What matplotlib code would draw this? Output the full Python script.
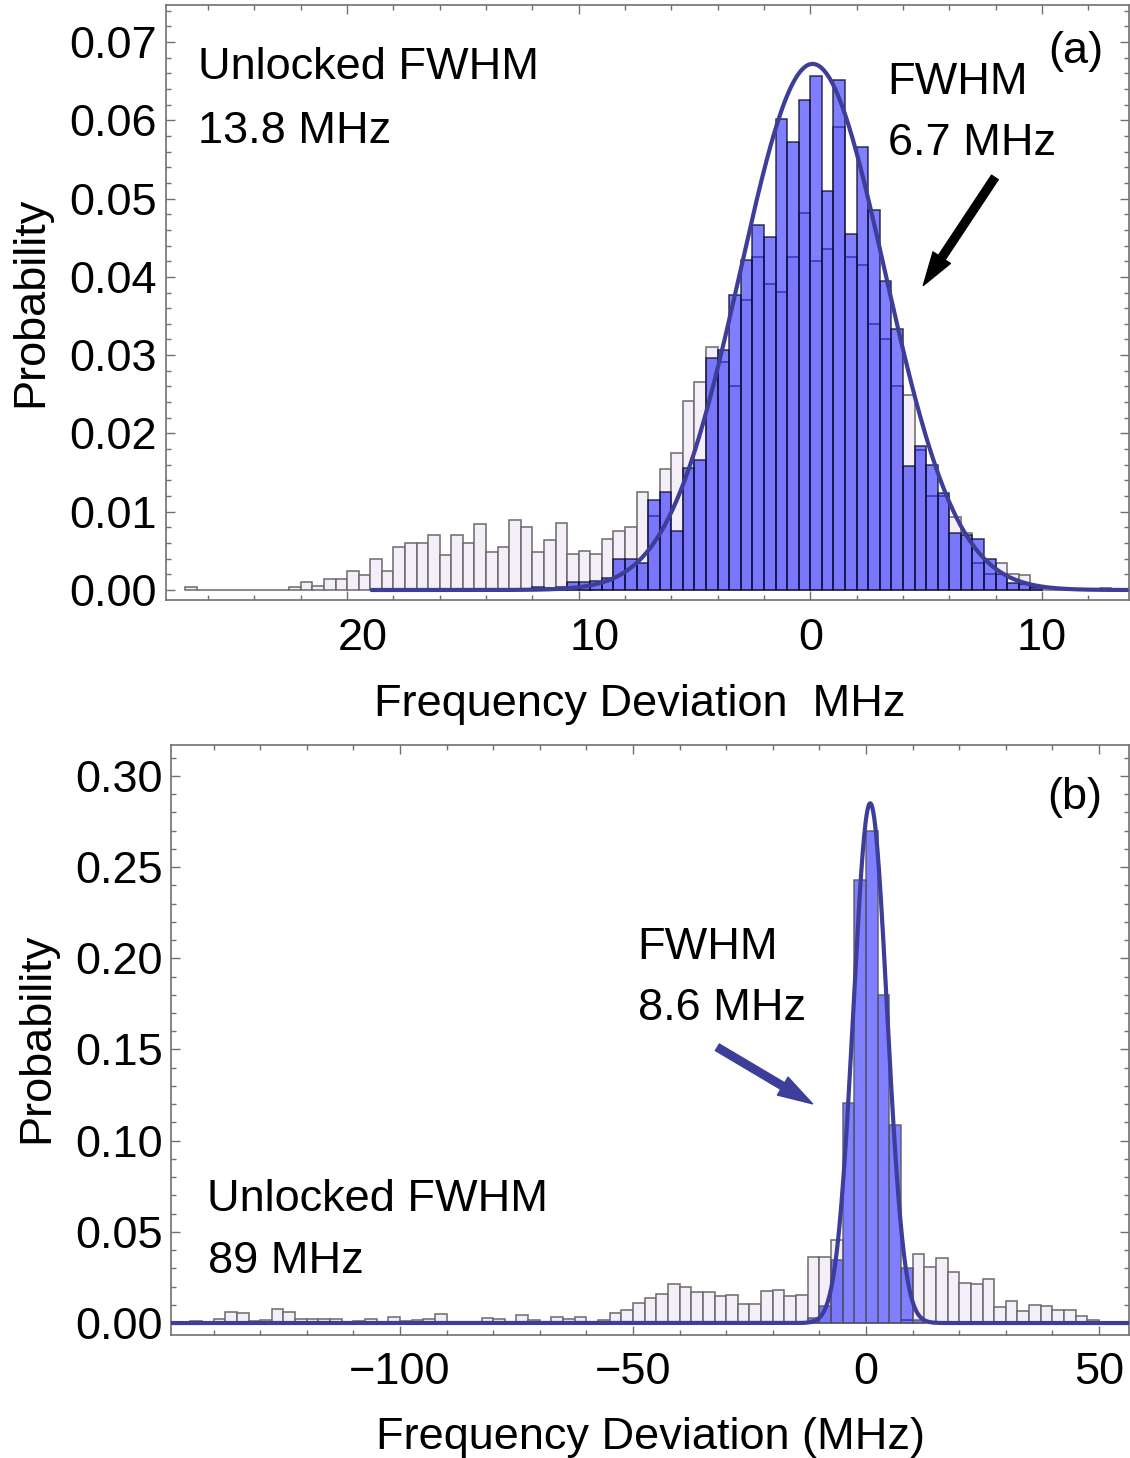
import numpy as np
import matplotlib
matplotlib.use("Agg")
import matplotlib.pyplot as plt
from matplotlib.ticker import MultipleLocator
from matplotlib.patches import FancyArrowPatch
from matplotlib.transforms import ScaledTranslation

plt.rcParams['font.family'] = ['Liberation Sans', 'DejaVu Sans']

# ------------------------------------------------------------------ data (a)
a_bin_width = 0.5
a_unlocked_start = -27.0
a_unlocked = [
    0.0004, 0, 0, 0, 0, 0, 0, 0, 0,
    0.00043, 0.00098, 0.00047, 0.00145, 0.00145, 0.00243, 0.00196, 0.0039,
    0.00247, 0.00545, 0.0060, 0.0060, 0.0070, 0.00447, 0.0070, 0.0060,
    0.0084, 0.0049, 0.00545, 0.0089, 0.0080, 0.0049, 0.0064, 0.0085,
    0.0046, 0.0050, 0.0046, 0.0065, 0.0075, 0.0080, 0.0125, 0.0095,
    0.0155, 0.0175, 0.0241, 0.0266, 0.0311, 0.0291, 0.0261, 0.0371,
    0.0426, 0.0391, 0.0381, 0.0426, 0.0482, 0.0420, 0.0436, 0.0591,
    0.0425, 0.0415, 0.0340, 0.0320, 0.0260, 0.0249, 0.0179, 0.0120,
    0.0120, 0.0093, 0.0073, 0.0035, 0.0020, 0.0035, 0.0020, 0.0019,
    0.0003, 0, 0, 0, 0, 0, 0.0003,
]
a_locked_start = -12.0
a_locked = [
    0.0004, 0.0003, 0.0004, 0.0010, 0.0010, 0.0012, 0.0015, 0.0040,
    0.0040, 0.0035, 0.0115, 0.0125, 0.0075, 0.0156, 0.0166, 0.0296,
    0.0306, 0.0377, 0.0421, 0.0466, 0.0451, 0.0602, 0.0572, 0.0626,
    0.0656, 0.0510, 0.0651, 0.0455, 0.0566, 0.0485, 0.0395, 0.0334,
    0.0159, 0.0184, 0.0160, 0.0124, 0.0073, 0.0070, 0.0065, 0.0040,
    0.0020, 0.0009, 0.0008, 0.0004,
]
a_fit_amp, a_fit_center, a_fit_sigma, a_fit_start = 0.0672, 0.1, 3.12, -19.0

a_xticks = [-20, -10, 0, 10]
a_xticklabels = ['20', '10', '0', '10']
a_yticks = [0.00, 0.01, 0.02, 0.03, 0.04, 0.05, 0.06, 0.07]
a_yticklabels = ['0.00', '0.01', '0.02', '0.03', '0.04', '0.05', '0.06', '0.07']

# ------------------------------------------------------------------ data (b)
b_bin_width = 2.5
b_unlocked_start = -147.5
b_unlocked = [
    0.0003, 0.0009, 0.0, 0.0024, 0.0062, 0.0055, 0.0009, 0.0018,
    0.0075, 0.0060, 0.0022, 0.0022, 0.0022, 0.0022, 0.0003, 0.0009,
    0.0022, 0.0003, 0.0035, 0.0009, 0.0016, 0.0024, 0.0047, 0.0005,
    0.0005, 0.0005, 0.0029, 0.0022, 0.0005, 0.0042, 0.0016, 0.0005,
    0.0035, 0.0022, 0.0035, 0.0005, 0.0016, 0.0056, 0.0069, 0.0110,
    0.0136, 0.0157, 0.0215, 0.0200, 0.0172, 0.0172, 0.0146, 0.0152,
    0.0104, 0.0104, 0.0174, 0.0181, 0.0146, 0.0152, 0.0362, 0.0362,
    0.0457, 0.0, 0.0, 0.0, 0.0, 0.0, 0.0017, 0.0381,
    0.0309, 0.0355, 0.0280, 0.0221, 0.0214, 0.0240, 0.0086, 0.0120,
    0.0066, 0.0099, 0.0093, 0.0073, 0.0073, 0.0039, 0.0014, 0.0004,
]
b_locked_start = -12.5
b_locked = [0.0025, 0.0096, 0.0346, 0.1204, 0.2430, 0.2700, 0.1800, 0.1085,
            0.0303, 0.0016]
b_fit_amp, b_fit_center, b_fit_sigma = 0.285, 0.9, 3.6

b_xticks = [-100, -50, 0, 50]
b_xticklabels = ['\u2212100', '\u221250', '0', '50']
b_yticks = [0.00, 0.05, 0.10, 0.15, 0.20, 0.25, 0.30]
b_yticklabels = ['0.00', '0.05', '0.10', '0.15', '0.20', '0.25', '0.30']

# ------------------------------------------------------------------ style
W, H, DPI = 1130, 1458, 100
FS = 32.5
LAV = '#f4eef8'
LAV_EDGE = '#6a6a6a'
BLUE = (0.0, 0.0, 1.0, 0.5)
BLUE_EDGE_A = (0.08, 0.08, 0.2, 0.85)
BLUE_EDGE_B = (0.35, 0.35, 0.4, 0.9)
CURVE = '#3d3d9a'
FRAME = '#707070'

fig = plt.figure(figsize=(W / DPI, H / DPI), dpi=DPI)


def add_axes_px(left, top, right, bottom):
    return fig.add_axes([left / W, 1 - bottom / H, (right - left) / W, (bottom - top) / H])


def fig_text(x, y, s, **kw):
    fig.text(x / W, 1 - y / H, s, fontsize=FS, **kw)


def style_axes(ax, xminor, yminor, xpad, ypad):
    for sp in ax.spines.values():
        sp.set_color(FRAME)
        sp.set_linewidth(1.2)
    ax.xaxis.set_minor_locator(MultipleLocator(xminor))
    ax.yaxis.set_minor_locator(MultipleLocator(yminor))
    ax.tick_params(which='both', direction='in', top=True, right=True,
                   color=FRAME, width=1.0, labelsize=FS)
    ax.tick_params(which='major', length=6.5)
    ax.tick_params(which='minor', length=3.5)
    ax.tick_params(axis='x', pad=xpad)
    ax.tick_params(axis='y', pad=ypad)


def draw_hist(ax, start, width, values, **kw):
    values = np.asarray(values, dtype=float)
    left = start + width * np.arange(len(values))
    ax.bar(left, values, width=width, align='edge', **kw)


# ------------------------------------------------------------------ panel (a)
axa = add_axes_px(166, 5, 1128.5, 600)
draw_hist(axa, a_unlocked_start, a_bin_width, a_unlocked,
          color=LAV, edgecolor=LAV_EDGE, linewidth=1.1, zorder=2)
draw_hist(axa, a_locked_start, a_bin_width, a_locked,
          color=BLUE, edgecolor=BLUE_EDGE_A, linewidth=1.1, zorder=3)
axa.set_xlim(-27.82, 13.74)
axa.set_ylim(-0.001277, 0.074726)
xa = np.linspace(a_fit_start, 13.74, 600)
axa.plot(xa, a_fit_amp * np.exp(-(xa - a_fit_center) ** 2 / (2 * a_fit_sigma ** 2)),
         color=CURVE, lw=3.0, zorder=4, solid_capstyle='butt')
axa.set_xticks(a_xticks)
axa.set_xticklabels(a_xticklabels)
axa.set_yticks(a_yticks)
axa.set_yticklabels(a_yticklabels)
style_axes(axa, 2, 0.002, 13, 6.5)
# the negative labels in the reference are shifted right (their minus sign is not drawn)
for lab in axa.get_xticklabels()[:2]:
    lab.set_transform(lab.get_transform() + ScaledTranslation(16 / DPI, 0, fig.dpi_scale_trans))

axa.add_patch(FancyArrowPatch((7.97, 0.0527), (4.88, 0.0389),
                              arrowstyle='simple,head_length=24,head_width=15,tail_width=5.8',
                              mutation_scale=1, color='black', shrinkA=0, shrinkB=0,
                              zorder=5))

fig_text(198, 79, 'Unlocked FWHM')
fig_text(198, 143, '13.8 MHz')
fig_text(887, 94, 'FWHM')
fig_text(888, 155, '6.7 MHz')
fig_text(1048, 63, '(a)')
fig_text(640, 716, 'Frequency Deviation  MHz', ha='center')
fig_text(31, 302, 'Probability', rotation=90, ha='center', va='center')

# ------------------------------------------------------------------ panel (b)
axb = add_axes_px(171, 745, 1128.5, 1335)
draw_hist(axb, b_unlocked_start, b_bin_width, b_unlocked,
          color=LAV, edgecolor=LAV_EDGE, linewidth=1.1, zorder=2)
draw_hist(axb, b_locked_start, b_bin_width, b_locked,
          color=BLUE, edgecolor=BLUE_EDGE_B, linewidth=1.1, zorder=3)
axb.set_xlim(-149.14, 56.33)
axb.set_ylim(-0.00657, 0.31697)
xb = np.linspace(-149.14, 56.33, 2000)
axb.plot(xb, b_fit_amp * np.exp(-(xb - b_fit_center) ** 2 / (2 * b_fit_sigma ** 2)),
         color=CURVE, lw=3.0, zorder=4)
axb.set_xticks(b_xticks)
axb.set_xticklabels(b_xticklabels)
axb.set_yticks(b_yticks)
axb.set_yticklabels(b_yticklabels)
style_axes(axb, 10, 0.01, 12, 6)

axb.add_patch(FancyArrowPatch((-31.9, 0.1512), (-11.46, 0.1202),
                              arrowstyle='simple,head_length=25,head_width=15,tail_width=5.5',
                              mutation_scale=1, color=CURVE, shrinkA=0, shrinkB=0,
                              zorder=5))

fig_text(1047, 809, '(b)')
fig_text(637, 959, 'FWHM')
fig_text(638, 1020, '8.6 MHz')
fig_text(207, 1211, 'Unlocked FWHM')
fig_text(208, 1273, '89 MHz')
fig_text(650, 1449, 'Frequency Deviation (MHz)', ha='center')
fig_text(37, 1038, 'Probability', rotation=90, ha='center', va='center')

fig.savefig('out.png', dpi=DPI)
